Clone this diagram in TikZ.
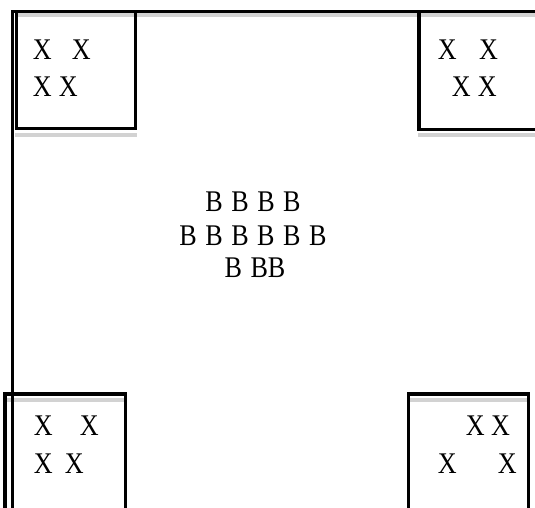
\documentclass[tikz,border=0pt]{standalone}
\usepackage{fontspec}
\usepackage{graphicx}
\setmainfont{Liberation Serif}
\newcommand\bsp{\hspace{4.9pt}}
\newcommand\lx[1]{\scalebox{0.87}[1]{#1}}
\begin{document}
\begin{tikzpicture}[x=0.5pt,y=-0.5pt,line width=1.9pt,
    shadow/.style={gray!35,line width=2pt},
    xlbl/.style={inner sep=0pt,anchor=base west,font=\fontsize{15}{18}\selectfont},
    blbl/.style={inner sep=0pt,anchor=base,font=\fontsize{15}{18}\selectfont}]
\useasboundingbox (0,0) rectangle (535,508);
\clip (0,0) rectangle (535,508);
% grey shadows under the lines
\draw[shadow] (17,15) -- (535,15);
\draw[shadow] (15,134.5) -- (137,134.5);
\draw[shadow] (418,134.5) -- (535,134.5);
\draw[shadow] (7,400) -- (124,400);
\draw[shadow] (410,400) -- (527,400);
% outer frame
\draw (12.5,508) -- (12.5,11.5) -- (535,11.5);
% corner boxes
\draw (16.5,11.5) rectangle (135.5,128.5);
\draw (419,11.5) rectangle (545,129.5);
\draw (5,394) rectangle (125.5,520);
\draw (408.5,394) rectangle (528.5,520);
% corner labels
\node[xlbl] (tla) at (31,60) {\lx{X\hspace{11.6pt}X}};
\node[xlbl] (tlb) at (31,97) {\lx{X\hspace{4.1pt}X}};
\node[xlbl] (tra) at (436,60) {\lx{X\hspace{12.8pt}X}};
\node[xlbl] (trb) at (450,97) {\lx{X\hspace{4.1pt}X}};
\node[xlbl] (bla) at (32,435) {\lx{X\hspace{15.6pt}X}};
\node[xlbl] (blb) at (32,473) {\lx{X\hspace{7pt}X}};
\node[xlbl] (bra) at (464,435) {\lx{X\hspace{3.6pt}X}};
\node[xlbl] (brb) at (436,473) {\lx{X\hspace{23.7pt}X}};
% centre labels
\node[blbl] (ba) at (253,211) {\lx{B\bsp B\bsp B\bsp B}};
\node[blbl] (bb) at (253,245) {\lx{B\bsp B\bsp B\bsp B\bsp B\bsp B}};
\node[blbl] (bc) at (255,277) {\lx{B\bsp BB}};
\end{tikzpicture}
\end{document}
